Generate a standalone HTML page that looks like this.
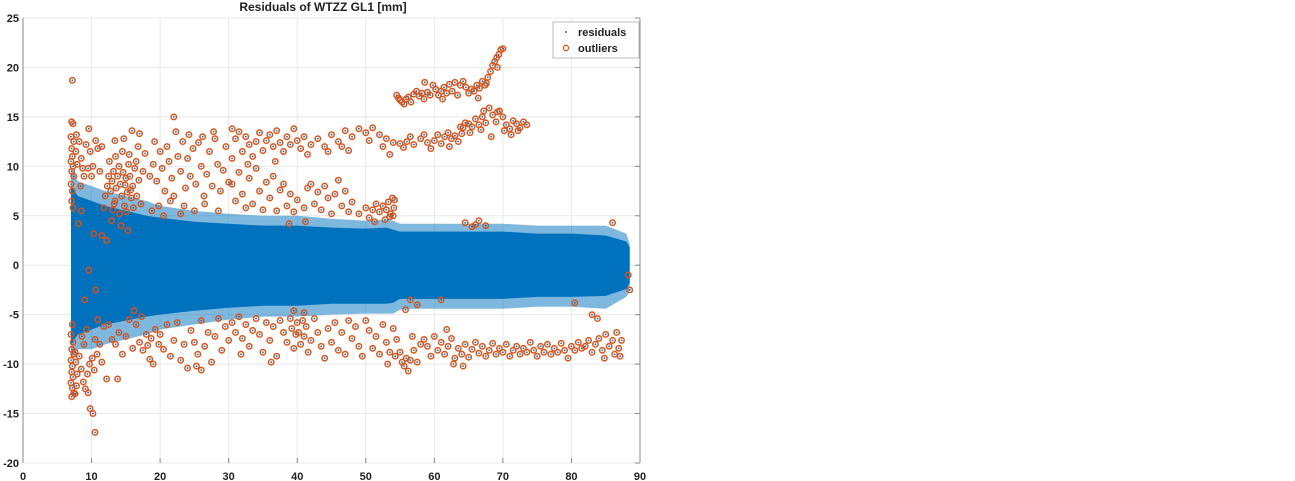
<!DOCTYPE html>
<html><head><meta charset="utf-8"><style>
body{margin:0;background:#fff;}
svg{display:block;font-family:"Liberation Sans",sans-serif;}
</style></head><body>
<svg id="chart" width="1295" height="481" viewBox="0 0 1295 481" xmlns="http://www.w3.org/2000/svg">
<rect width="1295" height="481" fill="#fff"/>
<g id="grid"></g>
<g id="cloud"></g>
<g id="outl"></g>
<g id="axes"></g>
<text x="323" y="11" text-anchor="middle" font-size="12" font-weight="bold" fill="#222">Residuals of  WTZZ GL1 [mm]</text>
<g>
<rect x="553" y="22" width="86" height="36" fill="#fff" stroke="#bbb" stroke-width="1"/>
<circle cx="566" cy="32" r="1" fill="#0072BD"/>
<text x="578" y="36" font-size="11" font-weight="bold" fill="#222">residuals</text>
<circle cx="566" cy="48" r="2.6" fill="none" stroke="#D95319" stroke-width="1.2"/>
<text x="578" y="52" font-size="11" font-weight="bold" fill="#222">outliers</text>
</g>
</svg>
<script>
const xTicks=[0,10,20,30,40,50,60,70,80,90];
const yTicks=[-20,-15,-10,-5,0,5,10,15,20,25];
const envX=[7,8,10,12,15,18,20,25,30,35,40,45,50,53,54,55,57,60,65,70,75,80,85,88,88.5];
const coreUp=[8,7,6.5,6,5.5,5,4.8,4.4,4.2,4,4,3.8,3.7,3.8,3.6,3.4,3.4,3.4,3.4,3.4,3.2,3.2,3,2.4,1.8];
const coreLo=[-8,-7,-6.5,-6,-5.6,-5.2,-5,-4.6,-4.3,-4.1,-4.1,-3.9,-3.9,-3.9,-3.8,-3.4,-3.4,-3.4,-3.4,-3.4,-3.2,-3.2,-3.1,-2.4,-1.8];
const outerUp=[10,8.5,8,7.5,7,6.5,6,5.5,5.2,5,5,4.7,4.5,4.6,4.5,4.2,4.2,4.2,4.2,4.2,4,4,4,3.2,2.2];
const outerLo=[-9.5,-8.5,-8.5,-8,-7.5,-7,-6.5,-6,-5.5,-5.2,-5.2,-5,-4.9,-4.9,-4.9,-4.5,-4.4,-4.4,-4.4,-4.4,-4.2,-4.2,-4.4,-3.2,-2.6];
const outliers=[[7.2,18.7],[7.1,14.5],[7.3,14.3],[7.0,13],[7.4,12.5],[7.1,11.8],[7.2,11],[7.0,10.5],[7.3,10],[7.1,9.5],[7.4,9],[7.0,8.2],[7.2,7.5],[7.1,6.5],[7.3,5.8],[7.2,-6],[7.0,-7],[7.3,-7.8],[7.1,-8.5],[7.4,-9],[7.0,-9.6],[7.2,-10.2],[7.1,-10.8],[7.3,-11.3],[7.0,-11.9],[7.2,-12.4],[7.4,-12.9],[7.1,-13.3],[7.6,-13],[7.8,-12.2],[7.9,-11],[7.7,-9.8],[7.6,-8.8],[7.8,13.2],[7.7,11.5],[7.9,10.2],[8.2,12.5],[8.5,10.8],[8.7,9.8],[8.9,9],[8.4,8],[9.2,12.2],[9.6,13.8],[9.8,11.5],[10.2,10],[10.6,12.6],[10.9,11.8],[11.5,12],[11.2,9.5],[9.5,9.8],[10,9],[8.2,-9.2],[8.5,-10.5],[8.8,-11.8],[9.1,-12.5],[9.4,-11],[9.7,-10],[10.1,-9.4],[10.4,-10.6],[10.8,-9],[11.2,-8],[11.5,-9.8],[8.6,-7.2],[9.3,-6.5],[10.5,-7.5],[11.8,-6.2],[12.2,-11.5],[9.8,-14.5],[10.2,-15],[10.5,-16.9],[9.5,-12.9],[8.9,-8],[10.9,-5.5],[8.1,4.2],[9.0,-3.5],[10.3,3.2],[10.6,-2.5],[9.6,-0.5],[8.5,5.5],
[12,7],[12.3,8],[12.5,9],[12.8,7.5],[13,8.5],[13.2,9.5],[13.4,6.5],[13.6,7.8],[13.8,9],[14,10],[14.2,8.2],[14.4,7],[14.6,9.4],[14.8,6],[15,8.8],[15.2,7.4],[15.4,10.2],[15.6,9],[15.8,6.8],[16,8],[16.3,9.8],[16.6,7],[16.9,8.6],[17.2,6.2],[13.1,5.6],[14.1,5.2],[15.1,5.4],[16.1,5.8],[13.5,11],[14.5,11.5],[15.5,11.2],[12.6,10.5],[11.8,5.8],[12.9,4.5],[14.3,4],[15.3,3.5],[11.5,3],[12.2,2.5],[13.3,6.2],[14.9,8.1],[15.7,7.6],[16.5,10.5],[17.5,9.5],[17.8,11.3],[16.8,12],[13.4,12.6],[14.7,12.8],[15.9,13.6],[17,13.3],
[12.5,-6],[13,-7.5],[13.5,-8],[14,-6.8],[14.5,-9],[15,-7.2],[15.5,-5.5],[16,-8.4],[16.5,-6],[17,-7.8],[17.5,-8.6],[18,-7],[18.5,-9.5],[19,-10],[13.8,-11.5],[16.2,-4.6],[17.3,-5.2],[18.2,-8.1],[18.7,-7.4],[19.3,-6.5],[19.8,-8],
[18.5,9],[19,10.2],[19.5,8.5],[20,11.5],[20.3,9.8],[20.7,7.5],[21,12],[21.3,10.5],[21.7,8.8],[22,15],[22.3,13.5],[22.6,11],[23,9.5],[23.3,12.5],[23.7,7.8],[24,10.8],[24.4,9],[24.8,11.8],[25.2,8.2],[25.6,12.4],[26,10],[26.4,7],[26.8,9.2],[27.2,11.5],[27.6,8],[28,12.8],[28.4,10.2],[28.8,7.5],[29.2,9.6],[29.6,12],[30,8.4],[19.8,6],[21.5,6.5],[23.5,6],[25,5.5],[26.5,6.2],[28.5,5.5],[24.2,13.2],[26.2,13],[27.8,13.5],[19.2,12.5],[18.8,5.5],[20.5,5],[22,7],[23,5.2],[30.5,10.8],
[30.5,13.8],[31,12.8],[31.5,13.5],[32,11.5],[32.5,13],[33,12.2],[33.5,11],[34,12.5],[34.5,13.4],[35,11.6],[35.5,12.6],[36,13.2],[36.5,12],[37,13.6],[37.5,12.4],[38,11.5],[38.5,13],[39,12.2],[39.5,13.8],[40,12.6],[40.5,11.8],[41,13],[42,12.2],[43,12.8],[44,12],[45,13.2],[46,12.5],[47,13.6],[48,13],[49,13.8],[50,13.4],[51,13.9],[52,13.2],[53,12.8],[54,12.4],[55,12.3],[56,12.5],[57,12.2],[58,12.8],[59,12.4],[44.5,11.5],[46.5,12],[47.5,11.6],[32.8,10.2],[36.8,10.5],[41.5,11.2],[50.5,12.6],[52.5,12],[53.5,11.2],
[30.5,8.2],[31,6.5],[31.5,9.4],[32,7.2],[32.5,5.8],[33,8.8],[33.5,6.2],[34,9.8],[34.5,7.5],[35,5.6],[35.5,8.4],[36,6.8],[36.5,9],[37,5.5],[37.5,7.6],[38,8.2],[38.5,6],[39,7.2],[39.5,5.4],[40,6.6],[41,5.8],[41.5,7.8],[42,8.2],[42.5,6.2],[43,7.4],[43.5,5.6],[44,8],[44.5,6.8],[45,5.2],[45.5,7.2],[46,8.6],[46.5,6],[47,7.5],[47.5,5.4],[48,6.4],[49,5.2],[50,5.8],[50.5,4.8],[51,5.6],[51.5,6.2],[52,5.4],[52.5,6],[53,5.6],[53.3,6.4],[53.6,5.2],[53.9,6.8],[54.1,5.8],[54.2,6.6],[52.8,4.6],[53.5,4.9],[54,5],[51.3,4.4],[38.8,4.2],[41.2,4.4],
[20,-7],[20.5,-8.5],[21,-6],[21.5,-9.2],[22,-7.6],[22.5,-5.8],[23,-9.6],[23.5,-8],[24,-10.4],[24.5,-6.6],[25,-7.8],[25.5,-9],[26,-5.6],[26.5,-8.2],[27,-6.8],[27.5,-9.8],[28,-7.2],[28.5,-5.4],[29,-8.6],[29.5,-6.2],[30,-7.6],[30.5,-5.8],[31,-6.8],[31.5,-5.2],[32,-7.4],[32.5,-6],[33,-8.2],[33.5,-6.6],[34,-5.4],[34.5,-7],[35,-8.8],[35.5,-5.8],[36,-7.6],[36.5,-6.2],[37,-9.2],[37.5,-5.6],[38,-6.8],[38.5,-7.8],[39,-5.4],[39.2,-6.4],[39.5,-8.4],[39.8,-7],[40,-5.8],[40.2,-6.8],[40.5,-8],[40.8,-5.6],[41,-7.2],[41.3,-6.2],[41.6,-8.8],[42,-7.6],[42.5,-5.4],[43,-6.8],[43.5,-8.2],[44,-9.4],[44.5,-6.4],[45,-7.8],[45.5,-5.8],[46,-8.6],[46.5,-6.8],[47,-9],[47.5,-5.6],[48,-7.4],[48.5,-6.2],[49,-8.2],[49.5,-9.2],[50,-5.6],[50.5,-6.6],[51,-8.4],[51.5,-7.2],[52,-9],[52.5,-6],[53,-7.8],[53.5,-8.8],[54,-6.4],[54.3,-9.2],[41,-4.8],[39.5,-4.6],[26,-10.6],[25.3,-10.2],[36.2,-9.8],[31.8,-9],[53.2,-10],
[60,12.6],[60.5,13.2],[61,12.3],[61.5,13],[62,13.4],[62.5,12.8],[63,13.1],[63.5,12.5],[64,13.3],[64.5,14.4],[65,14.3],[65.5,14],[66,14.8],[66.5,14.2],[67,15],[67.5,14.4],[68,15.9],[68.5,15.2],[69,14.5],[69.5,15.6],[70,15],[70.5,14.2],[71,13.8],[71.5,14.6],[72,14.3],[72.5,13.9],[73,14.5],[73.5,14.2],[62.2,12],[64.2,13.9],[65.2,13.4],[66.8,13.7],[68.3,13],[70.2,13.6],[71.2,13.2],[72.2,13.6],[59.5,11.8],[55.5,11.9],[56.5,13],[58.5,13.2],[63.8,14],[67.2,15.6],[69.2,15.5],
[54.5,17.2],[54.8,16.9],[55,16.7],[55.3,16.5],[55.6,16.3],[55.9,16.8],[56.2,17],[56.6,16.5],[57,17.3],[57.4,17.6],[57.8,17.1],[58.2,17.4],[58.5,16.8],[59,17.5],[59.4,17.2],[59.8,18.2],[60.2,17.8],[60.6,17.2],[61,17.6],[61.4,18],[61.8,17.4],[62.2,18.3],[62.6,17.6],[63,18.5],[63.4,17.2],[63.8,18.2],[64.2,18.6],[64.6,18],[65,17.4],[65.4,17.8],[65.8,17.6],[66.2,18.2],[66.6,17.9],[67,18.6],[67.4,18.2],[67.8,19],[68.2,19.6],[68.5,20.2],[68.8,20.6],[69.1,21],[69.4,21.3],[69.7,21.8],[70,21.9],[69.2,20],[67.6,18.4],[58.6,18.5],[61.2,16.8],[66.4,16.9],
[54.5,-7.5],[55,-8.8],[55.3,-9.8],[55.6,-10.2],[55.9,-9.4],[56.2,-10.7],[56.5,-9.6],[57,-8.6],[57.5,-9.8],[58,-8],[58.5,-7.5],[59,-8.2],[59.5,-9.2],[60,-7.2],[60.5,-8.6],[61,-7.8],[61.5,-9],[62,-8.2],[62.5,-7.4],[63,-9.4],[63.5,-8.4],[64,-9],[64.5,-8],[65,-9.3],[65.5,-8.5],[66,-7.8],[66.5,-8.9],[67,-8.2],[67.5,-9.2],[68,-8.6],[68.5,-7.9],[69,-9],[69.5,-8.4],[70,-8.8],[70.5,-8],[71,-9.2],[71.5,-8.6],[72,-8.2],[72.5,-9],[73,-8.4],[73.5,-8.8],[74,-7.8],[74.5,-8.6],[75,-9.2],[75.5,-8.2],[76,-8.8],[76.5,-8],[77,-9],[77.5,-8.4],[78,-8.8],[78.5,-7.9],[79,-8.6],[79.5,-9.4],[80,-8.2],[80.5,-8.6],[81,-7.8],[81.5,-8.4],[82,-8.2],[82.5,-7.6],[83,-8.8],[83.5,-8],[84,-7.4],[84.5,-8.6],[85,-7],[85.5,-8.2],[86,-7.6],[86.3,-9],[86.6,-6.8],[86.9,-8.4],[87.1,-9.2],[87.3,-7.6],[64.2,-10.2],[84.8,-9.4],[56.8,-7.2],[62.8,-10],[61.8,-6.5],
[64.5,4.3],[65.5,3.9],[66,4.1],[66.5,4.5],[67.5,4],[86,4.3],[88.5,-2.5],[88.3,-1],[55.8,-4.5],[56.5,-3.5],[57.5,-4],[61,-3.5],[83,-5],[83.8,-5.4],[80.5,-3.8]];

const L=23,R=640,T=18,B=463,XMIN=0,XMAX=90,YMIN=-20,YMAX=25;
const sx=v=>L+(v-XMIN)/(XMAX-XMIN)*(R-L);
const sy=v=>B-(v-YMIN)/(YMAX-YMIN)*(B-T);
const NS='http://www.w3.org/2000/svg';
function mk(tag,parent,attrs){const e=document.createElementNS(NS,tag);for(const k in attrs)e.setAttribute(k,attrs[k]);parent.appendChild(e);return e;}
const grid=document.getElementById('grid'),axes=document.getElementById('axes'),cloud=document.getElementById('cloud'),outl=document.getElementById('outl');
xTicks.forEach(t=>{
  const g=mk('line',grid,{x1:sx(t),x2:sx(t),y1:T,y2:B,stroke:'#e8e8e8','stroke-width':1});
  
  
  const tk=mk('line',axes,{x1:sx(t),x2:sx(t),y1:B,y2:B-5,stroke:'#888','stroke-width':1});
  
  
  const lb=mk('text',axes,{x:sx(t),y:480,'text-anchor':'middle','font-size':11,'font-weight':'bold',fill:'#222'});
  lb.textContent=t;
  
  
});
yTicks.forEach(t=>{
  const g=mk('line',grid,{x1:L,x2:R,y1:sy(t),y2:sy(t),stroke:'#e8e8e8','stroke-width':1});
  
  
  const tk=mk('line',axes,{x1:R,x2:R-5,y1:sy(t),y2:sy(t),stroke:'#888','stroke-width':1});
  
  
  const lb=mk('text',axes,{x:L-4,y:sy(t)+4,'text-anchor':'end','font-size':11,'font-weight':'bold',fill:'#222'});
  lb.textContent=t;
  
  
});
const la=mk('line',axes,{x1:L,x2:L,y1:T,y2:B,stroke:'#888','stroke-width':1});


const ra=mk('line',axes,{x1:R,x2:R,y1:T,y2:B,stroke:'#888','stroke-width':1});


function band(up,lo,op,name){
  let d='M'+envX.map((x,i)=>sx(x)+','+sy(up[i])).join(' L');
  d+=' L'+envX.map((x,i)=>sx(x)+','+sy(lo[i])).reverse().join(' L')+' Z';
  const p=mk('path',cloud,{d:d,fill:'#0072BD','fill-opacity':op});
  
  
}
band(outerUp,outerLo,0.5,'residuals-outer-spread');
band(coreUp,coreLo,1,'residuals-core');
outliers.forEach(p=>{
  const c=mk('circle',outl,{cx:sx(p[0]),cy:sy(p[1]),r:2.7,fill:'none',stroke:'#D95319','stroke-width':1.5});
  
  
  const d=mk('circle',outl,{cx:sx(p[0]),cy:sy(p[1]),r:0.9,fill:'#0072BD'});
  
  
});
</script>
</body></html>
